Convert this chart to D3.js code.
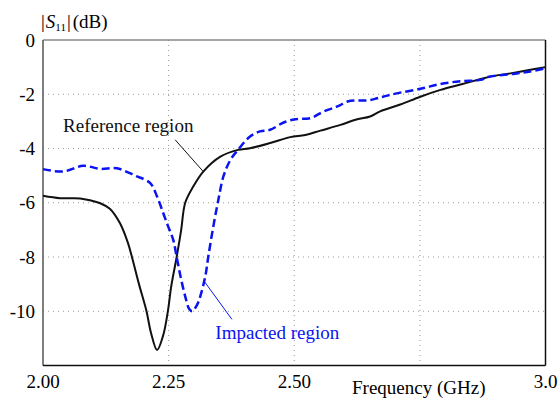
<!DOCTYPE html>
<html>
<head>
<meta charset="utf-8">
<script src="https://cdn.jsdelivr.net/npm/d3@7"></script>
<style>
  body { margin: 0; background: #fff; font-family: 'Liberation Serif'; }
  svg, svg text, svg tspan { font-family: 'Liberation Serif'; }
</style>
</head>
<body>
<div id="chart"></div>
<script>
// frequency (GHz) and |S11| (dB)
var refFreq = [2.000, 2.034, 2.074, 2.094, 2.114, 2.133, 2.153, 2.169, 2.177, 2.191, 2.206, 2.215, 2.227,
    2.239, 2.249, 2.255, 2.266, 2.275, 2.283, 2.299, 2.319, 2.353, 2.388, 2.412, 2.452, 2.492, 2.522,
    2.552, 2.592, 2.622, 2.651, 2.671, 2.711, 2.751, 2.791, 2.831, 2.871, 2.890, 2.930, 2.970, 3.000]
var refS11 = [-5.74, -5.83, -5.84, -5.91, -6.02, -6.22, -6.75, -7.48, -8.0, -9.0, -10.0, -10.8, -11.43,
    -10.9, -9.94, -9.1, -8.0, -7.0, -6.0, -5.4, -4.85, -4.3, -4.05, -3.99, -3.8, -3.58, -3.5,
    -3.34, -3.13, -2.94, -2.82, -2.63, -2.38, -2.09, -1.84, -1.64, -1.44, -1.35, -1.23, -1.1, -1.0]

var impFreq = [2.000, 2.040, 2.080, 2.114, 2.147, 2.183, 2.213, 2.227, 2.239, 2.249, 2.259, 2.267, 2.275,
    2.283, 2.291, 2.297, 2.307, 2.313, 2.323, 2.329, 2.339, 2.349, 2.359, 2.373, 2.388, 2.412, 2.432,
    2.452, 2.478, 2.502, 2.532, 2.558, 2.586, 2.606, 2.625, 2.645, 2.665, 2.685, 2.711, 2.751, 2.791,
    2.831, 2.871, 2.884, 2.936, 2.970, 3.000]
var impS11 = [-4.76, -4.85, -4.64, -4.75, -4.73, -5.0, -5.27, -5.77, -6.37, -6.87, -7.36, -8.1, -8.83,
    -9.45, -9.92, -10.0, -9.75, -9.45, -8.71, -7.98, -6.87, -5.89, -5.03, -4.42, -4.05, -3.56, -3.37,
    -3.31, -3.05, -2.92, -2.88, -2.64, -2.45, -2.27, -2.23, -2.23, -2.15, -2.05, -1.94, -1.8, -1.62,
    -1.52, -1.47, -1.37, -1.25, -1.16, -1.04]

var xTicks = [2.00, 2.25, 2.50, 3.0]
var xTickLabels = ["2.00", "2.25", "2.50", "3.0"]
var xGrid = [2.25, 2.5, 2.75]
var yTicks = [0, -2, -4, -6, -8, -10]

var width = 559, height = 401
var margin = {top: 40, right: 13.5, bottom: 35, left: 43}
var serif = "Liberation Serif"

var svg = d3.select("#chart").append("svg")
    .attr("width", width)
    .attr("height", height)
    .attr("font-family", serif)
    .style("font-family", "'" + serif + "'")

var x = d3.scaleLinear().domain([2, 3]).range([margin.left, width - margin.right])
var y = d3.scaleLinear().domain([-12, 0]).range([height - margin.bottom - 0.5, margin.top])

// every label goes through here so the serif face sticks
function label(sel) {
    return sel.attr("font-family", serif)
        .style("font-family", "'" + serif + "'")
        .attr("font-size", "19px")
}

// dotted grid
svg.append("g").selectAll("line").data(xGrid).enter().append("line")
    .attr("x1", d => x(d)).attr("x2", d => x(d))
    .attr("y1", y(0)).attr("y2", y(-12))
    .attr("stroke", "#999").attr("stroke-width", 1).attr("stroke-dasharray", "1,4")
svg.append("g").selectAll("line").data(yTicks.filter(d => d != 0)).enter().append("line")
    .attr("x1", x(2)).attr("x2", x(3))
    .attr("y1", d => y(d)).attr("y2", d => y(d))
    .attr("stroke", "#999").attr("stroke-width", 1).attr("stroke-dasharray", "1,4")

// frame
svg.append("line").attr("x1", x(2)).attr("x2", x(3)).attr("y1", y(0)).attr("y2", y(0))
    .attr("stroke", "#888").attr("stroke-width", 1.5)
svg.append("line").attr("x1", x(3)).attr("x2", x(3)).attr("y1", y(0)).attr("y2", y(-12))
    .attr("stroke", "#111").attr("stroke-width", 1.5)
svg.append("line").attr("x1", x(2)).attr("x2", x(2)).attr("y1", y(0)).attr("y2", y(-12))
    .attr("stroke", "#555").attr("stroke-width", 1.5)
svg.append("line").attr("x1", x(2)).attr("x2", x(3)).attr("y1", y(-12)).attr("y2", y(-12))
    .attr("stroke", "#111").attr("stroke-width", 1.5)

// tick labels
svg.append("g").selectAll("text").data(yTicks).enter().append("text")
    .attr("x", x(2) - 8)
    .attr("y", d => y(d))
    .attr("dy", "0.35em")
    .attr("text-anchor", "end")
    .call(label)
    .append("tspan").text(d => d)

svg.append("g").selectAll("text").data(xTicks).enter().append("text")
    .attr("x", d => x(d))
    .attr("y", y(-12) + 22)
    .attr("text-anchor", "middle")
    .call(label)
    .append("tspan").text((d, i) => xTickLabels[i])

svg.append("text")
    .attr("x", 352).attr("y", y(-12) + 28)
    .call(label)
    .append("tspan").text("Frequency (GHz)")

// y title |S11|(dB)
var title = svg.append("text").attr("x", 41).attr("y", 28).call(label)
title.append("tspan").text("|")
title.append("tspan").style("font-style", "italic").attr("dx", 1).text("S")
title.append("tspan").attr("font-size", "11px").attr("dy", 3).text("11")
title.append("tspan").attr("dy", -3).attr("dx", 1).text("|")
title.append("tspan").attr("dx", 2).text("(dB)")

// curves
var line = d3.line()
    .x(d => x(d[0]))
    .y(d => y(d[1]))
    .curve(d3.curveCatmullRom.alpha(0.5))

svg.append("path")
    .datum(refFreq.map((f, i) => [f, refS11[i]]))
    .attr("d", line)
    .attr("fill", "none")
    .attr("stroke", "#111")
    .attr("stroke-width", 2)

svg.append("path")
    .datum(impFreq.map((f, i) => [f, impS11[i]]))
    .attr("d", line)
    .attr("fill", "none")
    .attr("stroke", "#0a14f0")
    .attr("stroke-width", 2.5)
    .attr("stroke-dasharray", "8,4")

// annotations
svg.append("line")
    .attr("x1", x(2.263)).attr("y1", y(-3.68))
    .attr("x2", x(2.319)).attr("y2", y(-4.85))
    .attr("stroke", "#111").attr("stroke-width", 1)
svg.append("text")
    .attr("x", x(2.040)).attr("y", y(-3.39))
    .call(label)
    .attr("fill", "#111")
    .append("tspan").text("Reference region")

svg.append("line")
    .attr("x1", x(2.321)).attr("y1", y(-8.9))
    .attr("x2", x(2.376)).attr("y2", y(-10.3))
    .attr("stroke", "#0a14f0").attr("stroke-width", 1)
svg.append("text")
    .attr("x", x(2.343)).attr("y", y(-11.04))
    .call(label)
    .attr("fill", "#0a14f0")
    .append("tspan").text("Impacted region")
</script>
</body>
</html>
